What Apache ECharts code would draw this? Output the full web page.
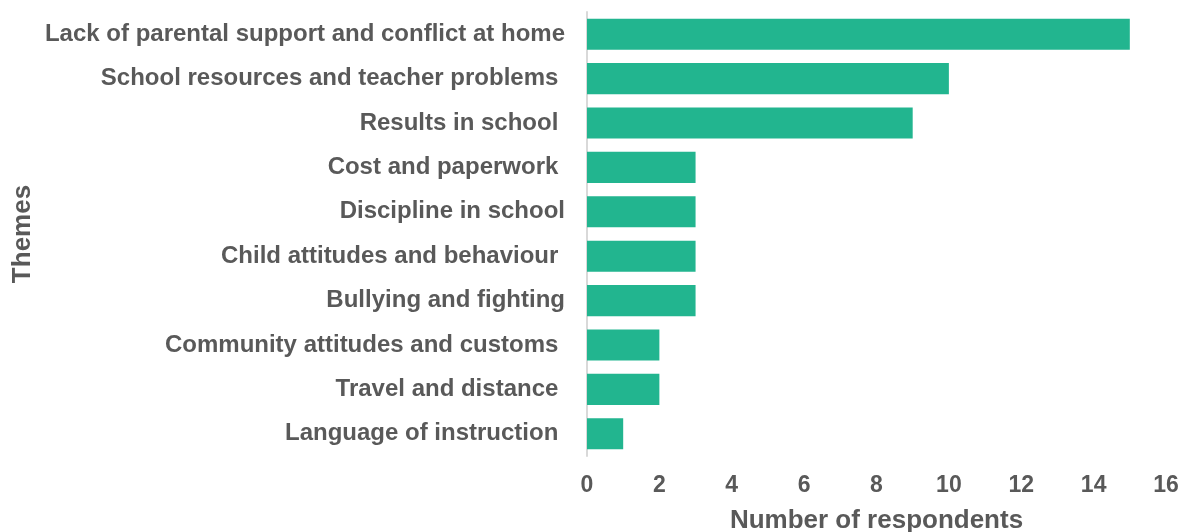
<!DOCTYPE html>
<html>
<head>
<meta charset="utf-8">
<script src="https://cdn.jsdelivr.net/npm/echarts@6/dist/echarts.min.js"></script>
<style>
  html, body { margin: 0; padding: 0; background: #ffffff; }
  #chart { width: 1184px; height: 532px; }
</style>
</head>
<body>
<div id="chart"></div>
<script>
// Themes, listed top to bottom
const themes = [
  'Lack of parental support and conflict at home',
  'School resources and teacher problems ',
  'Results in school ',
  'Cost and paperwork ',
  'Discipline in school',
  'Child attitudes and behaviour ',
  'Bullying and fighting',
  'Community attitudes and customs ',
  'Travel and distance ',
  'Language of instruction '
];
// Number of respondents per theme
const respondents = [15, 10, 9, 3, 3, 3, 3, 2, 2, 1];

const textColor = '#595959';
const fontFamily = '"Liberation Sans", Arial, sans-serif';

const chart = echarts.init(document.getElementById('chart'), null, { renderer: 'canvas' });
chart.setOption({
  animation: false,
  backgroundColor: '#ffffff',
  grid: { left: 587, right: 18, top: 12, bottom: 76, containLabel: false, outerBoundsMode: 'none' },
  xAxis: {
    type: 'value',
    min: 0,
    max: 16,
    interval: 2,
    name: 'Number of respondents',
    nameLocation: 'middle',
    nameGap: 52,
    nameTextStyle: { color: textColor, fontSize: 26, fontWeight: 'bold', fontFamily },
    axisLine: { show: false },
    axisTick: { show: false },
    splitLine: { show: false },
    axisLabel: { color: textColor, fontSize: 23, fontWeight: 'bold', fontFamily, margin: 18 }
  },
  yAxis: {
    type: 'category',
    data: themes,
    inverse: true,
    name: 'Themes',
    nameLocation: 'middle',
    nameGap: 551,
    nameRotate: 90,
    nameTextStyle: { color: textColor, fontSize: 26, fontWeight: 'bold', fontFamily },
    axisLine: { show: true, lineStyle: { color: '#d9d9d9', width: 2 } },
    axisTick: { show: false },
    axisLabel: { color: textColor, fontSize: 24, fontWeight: 'bold', fontFamily, margin: 22 }
  },
  series: [{
    type: 'bar',
    data: respondents,
    barCategoryGap: '30%',
    itemStyle: { color: '#22b58f' }
  }]
});
</script>
</body>
</html>
